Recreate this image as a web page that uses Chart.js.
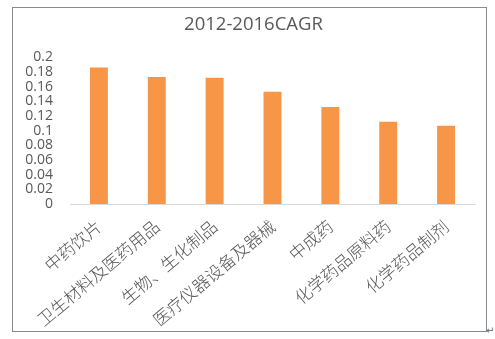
<!DOCTYPE html>
<html><head><meta charset="utf-8">
<script src="https://cdn.jsdelivr.net/npm/chart.js@4/dist/chart.umd.min.js"></script>
<style>
html,body{margin:0;padding:0;background:#fff;width:495px;height:339px;overflow:hidden;}
#box{position:absolute;left:12px;top:7px;width:473px;height:323px;border:1px solid #8a8a8a;}
#mark{position:absolute;left:486px;top:325px;font:10px "DejaVu Sans";color:#666;}
</style></head><body>
<div id="box"><canvas id="c" width="473" height="323"></canvas></div>
<div id="mark">↵</div>
<script>
const categories = ["中药饮片","卫生材料及医药用品","生物、生化制品","医疗仪器设备及器械","中成药","化学药品原料药","化学药品制剂"];
const cagrValues = [0.186,0.173,0.172,0.153,0.132,0.112,0.1065];
const yTicks = [0,0.02,0.04,0.06,0.08,0.1,0.12,0.14,0.16,0.18,0.2];
const chartTitle = "2012-2016CAGR";

new Chart(document.getElementById('c'), {
  type: 'bar',
  data: { labels: categories, datasets: [{ data: cagrValues, backgroundColor: '#F79646', barPercentage: 0.31, categoryPercentage: 1 }] },
  options: {
    responsive: false, animation: false,
    layout: { padding: { left: 8, right: 0, top: 4, bottom: 0 } },
    plugins: {
      legend: { display: false }, tooltip: { enabled: false },
      title: { display: true, text: chartTitle, color: '#595959', font: { family: 'Open Sans', size: 18.5, weight: 'normal' }, padding: { top: 2, bottom: 21 } }
    },
    scales: {
      y: {
        min: 0, max: 0.2,
        afterBuildTicks: s => { s.ticks = yTicks.map(v => ({ value: v })); },
        afterFit: s => { s.width = 49; },
        ticks: { autoSkip: false, color: '#595959', font: { family: 'Open Sans', size: 14, lineHeight: 1 }, padding: 9, callback: v => String(+(+v).toFixed(2)) },
        grid: { display: false }, border: { display: false }
      },
      x: {
        afterFit: s => { s.height = 127; s.paddingLeft = 0; s.paddingRight = 11; },
        ticks: { color: '#555', font: { family: 'Noto Sans CJK SC', size: 17, weight: 300 }, minRotation: 40, maxRotation: 40, padding: 4, autoSkip: false },
        grid: { display: false }, border: { color: '#d9d9d9', width: 1 }
      }
    }
  }
});
</script></body></html>
